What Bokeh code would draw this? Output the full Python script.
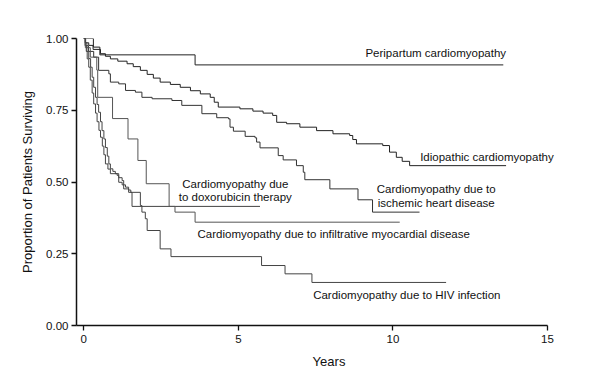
from bokeh.plotting import figure
from bokeh.models import Label, FixedTicker, NumeralTickFormatter, Range1d
from bokeh.embed import file_html
from bokeh.resources import INLINE

# ---- data (years, proportion surviving after each event; last entry = end of follow-up) ----
peri_t = [0, 0.31, 0.52, 3.60, 13.57]
peri_s = [1.0, 0.970, 0.943, 0.908, 0.908]

idio_t = [0, 0.05, 0.16, 0.30, 0.54, 0.70, 0.86, 1.10, 1.40, 1.60, 1.83, 2.05, 2.25, 2.47,
          2.80, 3.12, 3.45, 3.77, 4.09, 4.22, 4.35, 5.05, 5.47, 5.80, 6.11, 6.24, 6.56,
          6.99, 7.53, 8.06, 8.60, 8.70, 8.82, 9.67, 9.89, 10.11, 10.30, 10.54, 13.66]
idio_s = [1.0, 0.985, 0.976, 0.962, 0.947, 0.938, 0.929, 0.921, 0.912, 0.902, 0.889, 0.875,
          0.862, 0.848, 0.840, 0.830, 0.818, 0.807, 0.795, 0.778, 0.761, 0.755, 0.747, 0.740,
          0.732, 0.708, 0.703, 0.691, 0.679, 0.668, 0.662, 0.648, 0.633, 0.627, 0.604, 0.586,
          0.572, 0.557, 0.557]

isch_t = [0, 0.06, 0.15, 0.32, 0.48, 0.81, 0.86, 1.13, 1.35, 1.67, 1.88, 2.21, 2.85, 3.17,
          3.82, 4.30, 4.68, 4.73, 4.84, 5.22, 5.54, 5.59, 5.70, 6.29, 6.45, 6.88, 7.10, 7.15,
          7.96, 8.87, 9.34, 10.86]
isch_s = [1.0, 0.975, 0.955, 0.935, 0.889, 0.877, 0.848, 0.842, 0.819, 0.813, 0.795, 0.790,
          0.784, 0.767, 0.738, 0.724, 0.720, 0.691, 0.677, 0.659, 0.654, 0.639, 0.619, 0.592,
          0.577, 0.557, 0.534, 0.508, 0.476, 0.438, 0.395, 0.395]

doxo_t = [0, 0.04, 0.08, 0.11, 0.16, 0.21, 0.27, 0.32, 0.38, 0.43, 0.49, 0.54, 0.60, 0.65,
          0.70, 0.78, 0.86, 1.08, 1.13, 1.24, 1.35, 1.45, 1.52, 1.56, 5.70]
doxo_s = [1.0, 0.975, 0.955, 0.929, 0.900, 0.855, 0.810, 0.772, 0.740, 0.710, 0.680, 0.656,
          0.625, 0.595, 0.563, 0.545, 0.529, 0.523, 0.499, 0.490, 0.482, 0.472, 0.464, 0.415,
          0.415]

infl_t = [0, 0.05, 0.21, 0.42, 0.45, 0.93, 1.43, 1.75, 2.02, 2.76, 2.95, 3.60, 10.22]
infl_s = [1.0, 0.968, 0.935, 0.890, 0.795, 0.721, 0.650, 0.575, 0.494, 0.415, 0.395, 0.360,
          0.360]

hiv_t = [0, 0.05, 0.10, 0.16, 0.22, 0.27, 0.32, 0.38, 0.43, 0.48, 0.54, 0.59, 0.65, 0.70,
         0.76, 0.81, 0.86, 0.94, 1.02, 1.13, 1.24, 1.29, 1.45, 1.83, 1.88, 1.99, 2.05, 2.47,
         2.82, 5.75, 6.51, 7.38, 11.72]
hiv_s = [1.0, 0.985, 0.955, 0.930, 0.900, 0.865, 0.830, 0.795, 0.770, 0.743, 0.710, 0.679,
         0.650, 0.620, 0.590, 0.563, 0.546, 0.537, 0.529, 0.515, 0.505, 0.476, 0.464, 0.418,
         0.395, 0.372, 0.331, 0.267, 0.240, 0.209, 0.180, 0.150, 0.150]

x_ticks = [0, 5, 10, 15]
y_ticks = [0, 0.25, 0.5, 0.75, 1.0]

FONT = "Liberation Sans"

p = figure(width=582, height=377, output_backend="svg", toolbar_location=None,
           x_range=Range1d(-0.236, 16.1), y_range=Range1d(0, 1.0))
p.min_border_left = 76
p.min_border_right = 1
p.min_border_top = 38
p.min_border_bottom = 52
p.outline_line_color = None
p.xgrid.visible = False
p.ygrid.visible = False
p.background_fill_color = "white"

curves = [(peri_t, peri_s, "#222222"), (idio_t, idio_s, "#222222"), (isch_t, isch_s, "#333333"),
          (doxo_t, doxo_s, "#444444"), (infl_t, infl_s, "#555555"), (hiv_t, hiv_s, "#444444")]
for t, s, c in curves:
    p.step(t, s, mode="after", line_color=c, line_width=1)

for ax in (p.xaxis[0], p.yaxis[0]):
    ax.axis_line_color = "#111111"
    ax.axis_line_width = 1.5
    ax.major_tick_line_color = "#111111"
    ax.major_tick_line_width = 1.3
    ax.major_tick_out = 5
    ax.major_tick_in = 0
    ax.minor_tick_line_color = None
    ax.major_label_text_font = FONT
    ax.major_label_text_font_size = "11.5px"
    ax.major_label_text_color = "#111111"
    ax.axis_label_text_font = FONT
    ax.axis_label_text_font_size = "13px"
    ax.axis_label_text_font_style = "normal"
    ax.axis_label_text_color = "#111111"

p.xaxis.bounds = (-0.236, 15)
p.xaxis.ticker = FixedTicker(ticks=x_ticks)
p.yaxis.ticker = FixedTicker(ticks=y_ticks)
p.yaxis.formatter = NumeralTickFormatter(format="0.00")
p.xaxis.axis_label = "Years"
p.yaxis.axis_label = "Proportion of Patients Surviving"
p.xaxis.major_label_standoff = 4
p.yaxis.major_label_standoff = 3
p.xaxis.axis_label_standoff = 8
p.yaxis.axis_label_standoff = 8

labels = [
    ("Peripartum cardiomyopathy", 9.11, 0.948, "left"),
    ("Idiopathic cardiomyopathy", 10.88, 0.586, "left"),
    ("Cardiomyopathy due to", 11.40, 0.474, "center"),
    ("ischemic heart disease", 11.40, 0.4275, "center"),
    ("Cardiomyopathy due", 4.90, 0.494, "center"),
    ("to doxorubicin therapy", 4.90, 0.447, "center"),
    ("Cardiomyopathy due to infiltrative myocardial disease", 3.68, 0.3195, "left"),
    ("Cardiomyopathy due to HIV infection", 7.42, 0.108, "left"),
]
for txt, lx, ly, al in labels:
    p.add_layout(Label(x=lx, y=ly, text=txt, text_font=FONT, text_font_size="11.5px",
                       text_align=al, text_baseline="middle", text_color="#111111"))

open("out.html", "w").write(file_html(p, INLINE))
